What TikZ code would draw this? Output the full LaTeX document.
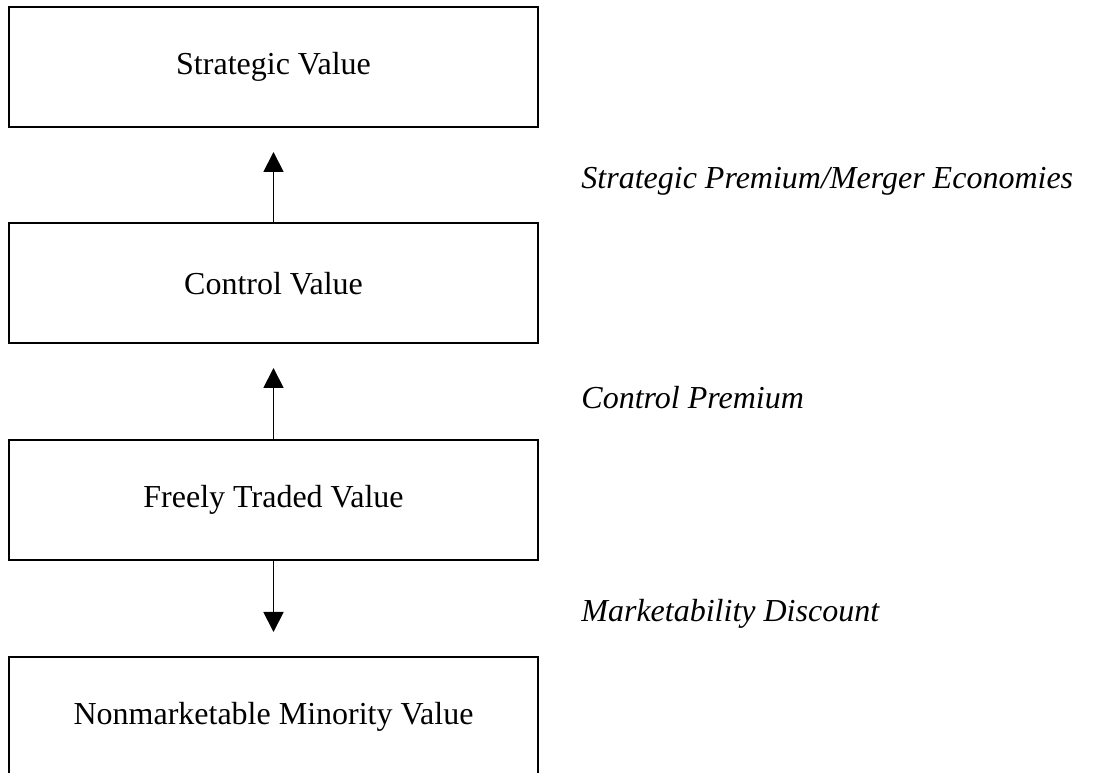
\documentclass[tikz,border=0pt]{standalone}
\usepackage{fontspec}
\setmainfont{Liberation Serif}
\usetikzlibrary{arrows.meta}

\begin{document}
\begin{tikzpicture}[
    x=0.375pt, y=-0.375pt,
    block/.style={
      rectangle,
      draw=black,
      line width=0.75pt,
      align=center,
      minimum width=198.4pt,
      minimum height=45pt,
      font=\fontsize{12pt}{14pt}\selectfont
    },
    note/.style={
      anchor=west,
      font=\fontsize{12pt}{14pt}\selectfont\itshape
    },
    >={Triangle[width=7.5pt,length=7.5pt]}
]

\useasboundingbox (0,0) rectangle (1099,773);

\node[block] (sv) at (273.5,67) {Strategic Value};
\node[block] (cv) at (273.5,283.5) {Control Value};
\node[block] (ftv) at (273.5,500) {Freely Traded Value};
\node[block] (nmv) at (273.5,717) {Nonmarketable Minority Value};

\node[] (tip1) at (273.5,152) {};
\node[] (tip2) at (273.5,368) {};
\node[] (tip3) at (273.5,632) {};

\draw[->,line width=0.7pt] (cv.north) -- (tip1.center);
\draw[->,line width=0.7pt] (ftv.north) -- (tip2.center);
\draw[->,line width=0.7pt] (ftv.south) -- (tip3.center);

\node[note] (spme) at (572,181) {Strategic Premium/Merger Economies};
\node[note] (cp) at (572,398) {Control Premium};
\node[note] (md) at (572,614) {Marketability Discount};

\end{tikzpicture}
\end{document}
